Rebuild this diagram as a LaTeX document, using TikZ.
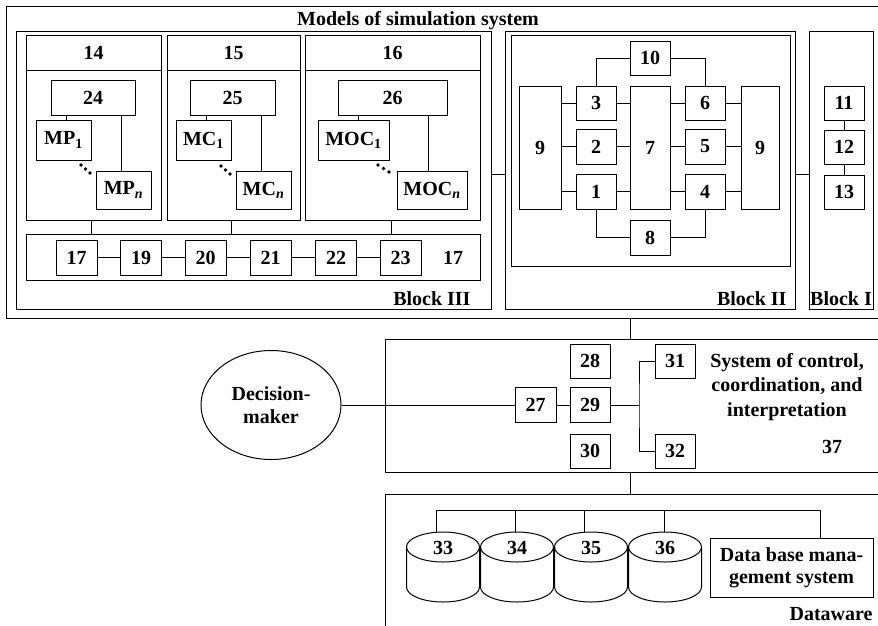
\documentclass[tikz,border=0pt]{standalone}
\usepackage{fontspec}
\setmainfont{Liberation Serif}
\usetikzlibrary{shapes.geometric}
\begin{document}
\begin{tikzpicture}[x=1pt,y=-1pt,
  line width=1pt,
  every node/.style={font=\fontsize{20}{24}\selectfont\bfseries, inner sep=0pt},
  sz/.style 2 args={minimum width=#1pt, minimum height=#2pt},
  frame/.style={draw, rectangle},
  box/.style={draw, rectangle, minimum width=40pt, minimum height=34pt},
]
\useasboundingbox (0,0) rectangle (878,625);
\clip (0,0) rectangle (878,625);

% ---------- models of the simulation system ----------
\node[frame, sz={894}{312}] (models) at (453,162) {};
\node[anchor=base] (title) at (418,25) {Models of simulation system};

% Block III
\node[frame, sz={475}{278}] (b3) at (253.5,170) {};
\node[anchor=base east] (b3lab) at (471,305) {Block III};

\node[frame, sz={135}{35}] (h14) at (93.5,52.5) {14};
\node[frame, sz={135}{150}] (g14) at (93.5,145) {};
\node[frame, sz={133}{35}] (h15) at (233.5,52.5) {15};
\node[frame, sz={133}{150}] (g15) at (233.5,145) {};
\node[frame, sz={175}{35}] (h16) at (392.5,52.5) {16};
\node[frame, sz={175}{150}] (g16) at (392.5,145) {};

\node[box, sz={84}{35}] (n24) at (93,97.5) {24};
\node[box, sz={55}{40}] (mp1) at (63.5,140) {MP\textsubscript{1}};
\node[box, sz={55}{38}] (mpn) at (123.5,190) {MP\textsubscript{\textit{n}}};
\node[box, sz={85}{35}] (n25) at (232.5,97.5) {25};
\node[box, sz={55}{40}] (mc1) at (203.5,140) {MC\textsubscript{1}};
\node[box, sz={55}{38}] (mcn) at (263.5,190) {MC\textsubscript{\textit{n}}};
\node[box, sz={109}{35}] (n26) at (392.5,97.5) {26};
\node[box, sz={71}{40}] (moc1) at (353.5,140) {MOC\textsubscript{1}};
\node[box, sz={70}{38}] (mocn) at (432,190) {MOC\textsubscript{\textit{n}}};

% links from each model group to its members
\path (mp1.north) ++(2.5,0) coordinate (a1);
\path (mpn.north) ++(-2.5,0) coordinate (a2);
\path (mc1.north) ++(2.5,0) coordinate (a3);
\path (mcn.north) ++(-2.5,0) coordinate (a4);
\path (moc1.north) ++(4.5,0) coordinate (a5);
\path (mocn.north) ++(-4,0) coordinate (a6);
\draw (a1) -- (a1 |- n24.south);
\draw (a2) -- (a2 |- n24.south);
\draw (a3) -- (a3 |- n25.south);
\draw (a4) -- (a4 |- n25.south);
\draw (a5) -- (a5 |- n26.south);
\draw (a6) -- (a6 |- n26.south);

% ellipsis dots between first and n-th model
\foreach \k in {0,1,2} {
  \fill (81+4.5*\k,165+4*\k) circle (1.8pt);
  \fill (221+4.5*\k,166+4*\k) circle (1.8pt);
  \fill (378+5.5*\k,165+3.5*\k) circle (1.8pt);
}

% lower strip with blocks 17--23
\node[frame, sz={454}{46}] (strip) at (253,257) {};
\foreach \n/\x in {17/76.5,19/141,20/205.5,21/270.5,22/336,23/400.5}
  \node[box, sz={41}{35}] (n\n) at (\x,257.5) {\n};
\node (s17) at (453,258) {17};
\draw (n17) -- (n19) -- (n20) -- (n21) -- (n22) -- (n23);

\foreach \g/\dx in {g14/-2.5,g15/-2.5,g16/-1.5} {
  \path (\g.south) ++(\dx,0) coordinate (d\g);
  \draw (d\g) -- (d\g |- strip.north);
}

% Block II
\node[frame, sz={290}{278}] (b2) at (650,170) {};
\node[frame, sz={279}{231}] (b2in) at (650.5,150.5) {};
\node[anchor=base east] (b2lab) at (787,305) {Block II};
\node[box] (n10) at (650,58) {10};
\node[box, sz={42}{123}] (n9l) at (540,147.5) {9};
\node[box] (n3) at (596,103) {3};
\node[box, sz={40}{35}] (n2) at (596,146.5) {2};
\node[box, sz={40}{35}] (n1) at (596,191.5) {1};
\node[box, sz={40}{123}] (n7) at (650,147.5) {7};
\node[box] (n6) at (705,103) {6};
\node[box, sz={40}{35}] (n5) at (705,146.5) {5};
\node[box, sz={40}{35}] (n4) at (705,191.5) {4};
\node[box, sz={38}{123}] (n9r) at (760,147.5) {9};
\node[box, sz={40}{35}] (n8) at (650,237.5) {8};

\foreach \m in {n3,n2,n1} {
  \draw (\m.west) -- (\m.west -| n9l.east);
  \draw (\m.east) -- (\m.east -| n7.west);
}
\foreach \m in {n6,n5,n4} {
  \draw (\m.west) -- (\m.west -| n7.east);
  \draw (\m.east) -- (\m.east -| n9r.west);
}
\draw (n10.west) -| (n3.north);
\draw (n10.east) -| (n6.north);
\draw (n8.west) -| (n1.south);
\draw (n8.east) -| (n4.south);

% Block I
\node[frame, sz={64}{278}] (b1) at (841,170) {};
\node[anchor=base] (b1lab) at (841,305) {Block I};
\node[box] (n11) at (844,103) {11};
\node[box] (n12) at (844,147) {12};
\node[box] (n13) at (844,192) {13};
\draw (n11) -- (n12) -- (n13);

% links between the blocks
\coordinate (hy) at (0,174);
\draw (b3.east |- hy) -- (b2.west |- hy);
\draw (b2.east |- hy) -- (b1.west |- hy);

% ---------- control, coordination and interpretation ----------
\coordinate (vx) at (630,0);
\node[frame, sz={515}{133}] (ctrl) at (642.5,405.5) {};
\draw (models.south -| vx) -- (ctrl.north -| vx);

\node[draw, ellipse, sz={140}{109}, align=center,
      font=\fontsize{20}{23}\selectfont\bfseries] (dm) at (271,405) {Decision-\\maker};
\node[box, sz={41}{35}] (n27) at (535.5,405) {27};
\node[box] (n28) at (590,361) {28};
\node[box, sz={40}{35}] (n29) at (590,405) {29};
\node[box] (n30) at (590,451) {30};
\node[box] (n31) at (675,361) {31};
\node[box] (n32) at (675,451) {32};
\coordinate (j) at (639,405);

\draw (dm) -- (n27);
\draw (n27) -- (n29);
\draw (n29) -- (j);
\draw (n31.west) -| (j) |- (n32.west);

\node[align=center, font=\fontsize{20}{24.5}\selectfont\bfseries] (desc) at (787,387)
  {System of control,\\coordination, and\\interpretation};
\node (n37) at (832,447) {37};

% ---------- dataware ----------
\node[frame, sz={515}{206}] (dware) at (642.5,597) {};
\draw (ctrl.south -| vx) -- (dware.north -| vx);

\foreach \i/\cx/\dx in {33/443/436,34/517/515,35/591/584,36/665/664} {
  \draw (\cx-36.5,547) -- (\cx-36.5,587)
        arc[start angle=180, end angle=0, x radius=36.5, y radius=15] -- (\cx+36.5,547);
  \draw (\cx,547) ellipse [x radius=36.5, y radius=15];
  \node (c\i) at (\cx,548) {\i};
  \coordinate (t\i) at (\dx,532.3);
}
\node[box, sz={163}{59}, align=center, font=\fontsize{20}{22}\selectfont\bfseries]
  (dbms) at (791.5,567.5) {Data base mana-\\gement system};
\node[anchor=base east] (dlab) at (873,620) {Dataware};

\coordinate (busL) at (436,510);
\coordinate (busR) at (820,510);
\draw (busL) -- (busR);
\foreach \i in {33,34,35,36} \draw (t\i) -- (t\i |- busL);
\draw (busR) -- (busR |- dbms.north);
\end{tikzpicture}
\end{document}
